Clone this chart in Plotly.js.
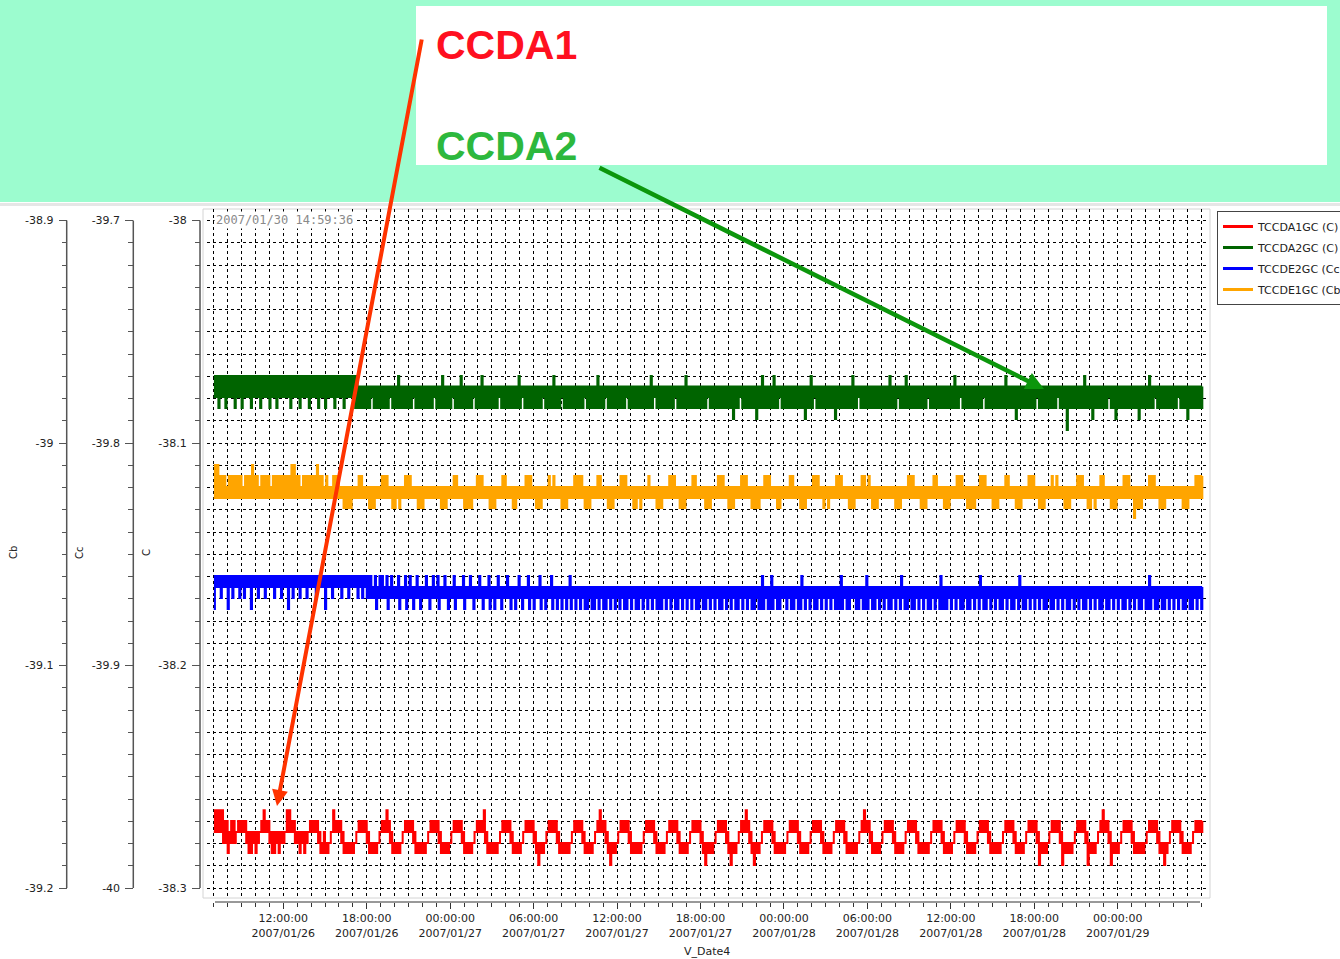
<!DOCTYPE html>
<html><head><meta charset="utf-8">
<script src="https://cdn.plot.ly/plotly-3.0.1.min.js"></script>
<style>html,body{margin:0;padding:0;background:#fff;overflow:hidden}#chart{width:1340px;height:959px}</style>
</head><body><div id="chart"></div>
<script>
// ---------------- data ----------------
const seriesNames  = ['TCCDA1GC (C)', 'TCCDA2GC (C)', 'TCCDE2GC (Cc)', 'TCCDE1GC (Cb)'];
const seriesColors = ['#ff0000', '#006400', '#0000ff', '#ffa500'];
const seriesAxes   = ['y', 'y', 'y2', 'y3'];

// one slot every 10 minutes, starting 2007-01-26 07:00:00
const sampleStartUTC = Date.UTC(2007, 0, 26, 7, 0, 0);
const slotMinutes = 10;

// quantised levels (each series on its own axis)
const levelsA1 = [-38.2650, -38.2699, -38.2748, -38.2798, -38.2843, -38.2897];   // C
const levelsA2 = [-38.0699, -38.0746, -38.0793, -38.0843, -38.0892, -38.0942];   // C
const levelsE2 = [-39.8598, -39.8647, -39.8697, -39.8746];                      // Cc
const levelsE1 = [-39.0099, -39.0148, -39.0198, -39.0247, -39.0292, -39.0337];   // Cb

// range of levels the value jitters across inside one slot (letter -> [level, level])
const bandsA1 = {H: [1, 2], S: [0, 2], M: [2, 3], L: [3, 4], D: [3, 5], W: [2, 4], T: [1, 3]};
const bandsA2 = {A: [0, 2], a: [0, 3], B: [1, 3], b: [1, 2], U: [0, 3], d: [1, 4], e: [1, 5]};
const bandsE2 = {T: [0, 1], t: [0, 2], q: [0, 3], B: [1, 2], W: [1, 3], F: [0, 3]};
const bandsE1 = {N: [2, 3], U: [1, 3], D: [2, 4], E: [1, 3], P: [0, 3], X: [2, 5]};

// one letter per 10-minute slot
const slotsA1 =
 'SSSSTTWTTM HHHHMWWMWM HSHHMWWMWMM SSHHMMWMWM HHHHMLWLLM SHHHMLLLLLM HHHHMLLLLM HHSHMLLLLM ' +
 'HHHHMLLLLLM HHHHMLLLLM HHHHMLLLLM HHHSMLLLLLM HHHHMLLLLM HHHHMLDLLM HHHHMLLLLLM HHHHMLLLLM ' +
 'HSHHMLDLLM HHHHMLLLLLM HHHHMLLLLM HHHHMLLLLM HHHHMLDLLLM HHHHMLDLLM HHSHMLDLLM HHHHMLLLLLM ' +
 'HHHHMLLLLM HHHHMLLLLM HHHHMLLLLLM HSHHMLLLLM HHHHMLLLLM HHHHMLLLLLM HHHHMLLLLM HHHHMLLLLM ' +
 'HHHHMLLLLLM HHHHMLLLLM HHHHMDLLLM HHHHMDLLLLM HHHHMDLLLM HSHHMDLLLM HHHHMLLLLLM HHHHMLLDLM ' +
 'HHHHMLLLLM HHHH';
const slotsA2 =
 'AAaAAa AAAaAA aAAAaA AAaAAA aAAaAA AAAaAA AaAAAa AAAaAA aAAAaA AAaAAA AaBBBB BBbBBB ' +
 'BBBBbB BUBBBB BBbBBB BBBBBb BBUBBB BbBBUB BBBBbB BUBBBB BBBbBB BBBBBU BbBBBB BBBBbB ' +
 'BBUBBB bBBBBB BBBBbB BBBUBB BbBBBB BBBBbB BBBBBB BBUBbB BBBBBB BbBBBU BBBBBB BBBbBB ' +
 'BBBBBB BBdBBb BBBBBB dBUBBB BUBBbB BBBBBB BBBdBU BbBBBB BBBBdB BBBBBU BBbBBB BBBBBB ' +
 'BBBUBB BbBBUB BBBBBB BBbBBB BBBBBB BUBBbB BBBBBB BBbBBB BBBBBU BBBBdB BBBBUB BbBBBB ' +
 'BBBBbB BBeBBB BBBUBB BdBBBB BBbBBd BBBBBB BBBdBB BUBBbB BBBBBB BBbBBB dBBBBB B';
const slotsE2 =
 'qTTtTT qTtTTt TtTTqT TtTTtT TTtTTt TTqTtT TtTTtT TTtTTT qTTtTT TtTTtT TTtTtT ttBtWt ' +
 'tBtWtB BtWBtW tBWtBW BtBWtB tWBtBW BtWBBt WBtBWB tBWBtW BWtBWB tBWBWt BWBtWB WBtWBW ' +
 'BtWBWB WBWtWB WBWBWW BWWBWB WWBWBW BWBWWB WBWWBW BWBWBW WWBWBW BWWBWB WBWBWW BWWBWB ' +
 'WBWWBW BWBWWB WBWBWW BWFWBW FWBWWB BWBWWB WFBWBW BWWBWB WBWBWW FWBWWB BWWBWF WBWWBW ' +
 'BWBWWB WBFBWW BWWBWB WBWWBW BFWWWB WBWBWW BWWBWB FBWWBW BWBWWB WBWWBF BWWBWB WBWBWW ' +
 'BWWBWB WBWWBW BWBWWB WBWBWW BWWBWB WBWWBW BWBWWB WFWBWW BWWBWB WBWBWW BWWBWB W';
const slotsE1 =
 'PPEEENEEEE EENEEEPEEN EEEENEEEEEE EEPPEENEEE EEEPEENENN UUUNNDDDDNN UUNNNDDDNN UUUNNDDNDN ' +
 'UUUNNNDDDNN NNNNNDDDNN UUNNNDDDDN UUUNNNDDDNN UUNNNDDNNN UUUNNDDDNN UNUNNNDDDNN UUUUNDDDNN ' +
 'UUNNNDDDNN UUUNNNDDNDN NUNNNDDDNN UUUNNDDDNN UUNNNNDDDNN UUUNNDDDNN UUUNNDDDDN UUUNNNDDNNN ' +
 'UUNNNDDDNN UUUNNDNDNN UUUNNNDDDNN UUNUNDDDNN NNNNNDDDNN UUUNNNDDDNN UUNNNDDDNN UUUNNDDDDN ' +
 'UUUNNNDDDNN UUNNNDDDNN UUUNNDDDNN UNUNNNDDDNN UUUNNDDNDN UUNNNDDDNN UUUNNXDDDNN UUUNNDDDNN ' +
 'NNNNNDDDNN UUUU';

// axis ticks
const xTickVals = ['2007-01-26 12:00:00','2007-01-26 18:00:00','2007-01-27 00:00:00','2007-01-27 06:00:00',
  '2007-01-27 12:00:00','2007-01-27 18:00:00','2007-01-28 00:00:00','2007-01-28 06:00:00',
  '2007-01-28 12:00:00','2007-01-28 18:00:00','2007-01-29 00:00:00'];
const xTickText = ['12:00:00<br>2007/01/26','18:00:00<br>2007/01/26','00:00:00<br>2007/01/27','06:00:00<br>2007/01/27',
  '12:00:00<br>2007/01/27','18:00:00<br>2007/01/27','00:00:00<br>2007/01/28','06:00:00<br>2007/01/28',
  '12:00:00<br>2007/01/28','18:00:00<br>2007/01/28','00:00:00<br>2007/01/29'];
const xRange = ['2007-01-26 06:30:51', '2007-01-29 06:25:09'];
const yTickC  = [-38, -38.1, -38.2, -38.3];   const yTextC  = ['-38', '-38.1', '-38.2', '-38.3'];
const yTickCc = [-39.7, -39.8, -39.9, -40];   const yTextCc = ['-39.7', '-39.8', '-39.9', '-40'];
const yTickCb = [-38.9, -39, -39.1, -39.2];   const yTextCb = ['-38.9', '-39', '-39.1', '-39.2'];
const axisTopC = -38, axisTopCc = -39.7, axisTopCb = -38.9, axisSpan = 0.3;
const stamp = '2007/01/30 14:59:36';
const xTitle = 'V_Date4';
const yTitles = ['Cb', 'Cc', 'C'];
const headTexts = ['CCDA1', 'CCDA2'];

// ---------------- build ----------------
function fmt(ms) { return new Date(ms).toISOString().slice(0, 19).replace('T', ' '); }
// each slot is drawn as its low and its high value (first and second half of the slot), as a step line
function decode(slots, bands, levels) {
  const s = slots.replace(/\s+/g, '');
  const x = [], y = [];
  const half = slotMinutes * 30000;
  for (let i = 0; i < s.length; i++) {
    const b = bands[s[i]];
    const v1 = levels[b[0]], v2 = levels[b[1]];
    const t = sampleStartUTC + i * slotMinutes * 60000;
    x.push(fmt(t), fmt(t + half));
    y.push(Math.min(v1, v2), Math.max(v1, v2));
  }
  return {x, y};
}
const allSlots  = [slotsA1, slotsA2, slotsE2, slotsE1];
const allBands  = [bandsA1, bandsA2, bandsE2, bandsE1];
const allLevels = [levelsA1, levelsA2, levelsE2, levelsE1];
const traces = allSlots.map((s, k) => {
  const d = decode(s, allBands[k], allLevels[k]);
  return {
    type: 'scatter', mode: 'lines', x: d.x, y: d.y, yaxis: seriesAxes[k],
    name: seriesNames[k], legendgroup: 'g' + k, showlegend: false,
    line: {color: seriesColors[k], width: 2, shape: 'hv', simplify: false},
    hoverinfo: 'skip'
  };
});
// legend entries (thicker sample line, as in the original legend)
seriesNames.forEach((n, k) => traces.push({
  type: 'scatter', mode: 'lines', x: [null], y: [null], yaxis: seriesAxes[k],
  name: n, legendgroup: 'g' + k, showlegend: true,
  line: {color: seriesColors[k], width: 3}, hoverinfo: 'skip'
}));

// hourly minor ticks / grid on x, 0.01 minor ticks on y
const xMinorVals = [];
for (let h = 0; h < 72; h++) xMinorVals.push(fmt(sampleStartUTC + h * 3600000));
function minorY(top) { const a = []; for (let i = 0; i <= 30; i++) a.push(+(top - i * 0.01).toFixed(2)); return a; }

const W = 1340, H = 959;
const px = v => v / W, py = v => 1 - v / H;
const yTopPx = 220.5, yBotPx = 888, plotTop = 209, plotBot = 898;
const ppu = (yBotPx - yTopPx) / axisSpan;
const rangeFor = top => [top - axisSpan - (plotBot - yBotPx) / ppu, top + (yTopPx - plotTop) / ppu];
const tickFont = {family: 'DejaVu Sans', size: 11, color: '#222'};
const dotGrid = {showgrid: true, gridcolor: '#000', gridwidth: 1, griddash: 'dot'};

function yAxis(pos, top, vals, text, withGrid) {
  const ax = {
    anchor: 'free', position: px(pos), side: 'left', range: rangeFor(top),
    showline: false, zeroline: false, showgrid: false,
    tickmode: 'array', tickvals: vals, ticktext: text, ticklabelstandoff: 3,
    ticks: 'outside', ticklen: 8, tickwidth: 1, tickcolor: '#555', tickfont: tickFont,
    minor: Object.assign({tickmode: 'array', tickvals: minorY(top), ticks: 'outside', ticklen: 5, tickwidth: 1,
                          tickcolor: '#555', showgrid: false}, withGrid ? dotGrid : {}),
    fixedrange: true
  };
  if (withGrid) Object.assign(ax, dotGrid);
  return ax;
}

const layout = {
  width: W, height: H,
  margin: {l: 0, r: 0, t: 0, b: 0, pad: 0, autoexpand: false},
  paper_bgcolor: '#fff', plot_bgcolor: '#fff',
  font: {family: 'DejaVu Sans', size: 11, color: '#222'},
  showlegend: true,
  legend: {x: px(1217), y: py(211), xanchor: 'left', yanchor: 'top', bgcolor: '#fff',
           bordercolor: '#444', borderwidth: 1, font: {family: 'DejaVu Sans', size: 11, color: '#222'},
           tracegroupgap: 2},
  xaxis: Object.assign({
    type: 'date', domain: [px(207), px(1207)], range: xRange,
    anchor: 'free', position: py(902),
    showline: false, zeroline: false,
    tickmode: 'array', tickvals: xTickVals, ticktext: xTickText,
    ticks: 'outside', ticklen: 6, tickwidth: 1, tickcolor: '#333', tickfont: tickFont,
    minor: Object.assign({tickmode: 'array', tickvals: xMinorVals, ticks: 'outside', ticklen: 4, tickwidth: 1,
            tickcolor: '#333'}, dotGrid),
    fixedrange: true
  }, dotGrid),
  yaxis: Object.assign(yAxis(200, axisTopC, yTickC, yTextC, true), {domain: [py(plotBot), py(plotTop)]}),
  yaxis2: Object.assign(yAxis(133.3, axisTopCc, yTickCc, yTextCc, false), {overlaying: 'y'}),
  yaxis3: Object.assign(yAxis(66.7, axisTopCb, yTickCb, yTextCb, false), {overlaying: 'y'}),
  shapes: [
    {type: 'rect', xref: 'paper', yref: 'paper', x0: 0, x1: 1, y0: py(202), y1: 1, fillcolor: '#9cfccf', line: {width: 0}},
    {type: 'rect', xref: 'paper', yref: 'paper', x0: 0, x1: 1, y0: py(206), y1: py(203), fillcolor: '#e6e6e6', line: {width: 0}},
    {type: 'rect', xref: 'paper', yref: 'paper', x0: px(416), x1: px(1327), y0: py(165), y1: py(6), fillcolor: '#fff', line: {width: 0}},
    {type: 'rect', xref: 'paper', yref: 'paper', x0: px(203), x1: px(1210), y0: py(plotBot), y1: py(plotTop), line: {color: '#d4d4d4', width: 1}, layer: 'below'},
    {type: 'line', xref: 'paper', yref: 'paper', x0: px(200), x1: px(200), y0: py(yBotPx), y1: py(yTopPx), line: {color: '#555', width: 1.5}},
    {type: 'line', xref: 'paper', yref: 'paper', x0: px(133.3), x1: px(133.3), y0: py(yBotPx), y1: py(yTopPx), line: {color: '#555', width: 1.5}},
    {type: 'line', xref: 'paper', yref: 'paper', x0: px(66.7), x1: px(66.7), y0: py(yBotPx), y1: py(yTopPx), line: {color: '#555', width: 1.5}},
    {type: 'line', xref: 'paper', yref: 'paper', x0: px(215), x1: px(1200), y0: py(902), y1: py(902), line: {color: '#333', width: 1}}
  ],
  annotations: [
    {xref: 'paper', yref: 'paper', x: px(214), y: py(220), xanchor: 'left', yanchor: 'middle', showarrow: false,
     text: stamp, bgcolor: '#fff', font: {family: 'DejaVu Sans Mono', size: 12, color: '#8a8a8a'}},
    {xref: 'paper', yref: 'paper', x: px(434), y: py(45), xanchor: 'left', yanchor: 'middle', showarrow: false,
     text: '<b>' + headTexts[0] + '</b>', font: {family: 'Liberation Sans', size: 41, color: '#ff1020'}},
    {xref: 'paper', yref: 'paper', x: px(434), y: py(146), xanchor: 'left', yanchor: 'middle', showarrow: false,
     text: '<b>' + headTexts[1] + '</b>', font: {family: 'Liberation Sans', size: 41, color: '#2db83d'}},
    {xref: 'paper', yref: 'paper', x: px(277), y: py(806), text: '', showarrow: true,
     ax: 422 - 277, ay: 38 - 806, arrowcolor: '#ff3300', arrowwidth: 4, arrowhead: 2, arrowsize: 0.8, standoff: 0},
    {xref: 'paper', yref: 'paper', x: px(1044), y: py(389), text: '', showarrow: true,
     ax: 598 - 1044, ay: 167 - 389, arrowcolor: '#0c960c', arrowwidth: 4.5, arrowhead: 2, arrowsize: 0.8, standoff: 0},
    {xref: 'paper', yref: 'paper', x: px(13), y: py(553), xanchor: 'center', yanchor: 'middle', textangle: -90, showarrow: false, text: yTitles[0], font: {size: 10, color: '#222'}},
    {xref: 'paper', yref: 'paper', x: px(79), y: py(553), xanchor: 'center', yanchor: 'middle', textangle: -90, showarrow: false, text: yTitles[1], font: {size: 10, color: '#222'}},
    {xref: 'paper', yref: 'paper', x: px(146), y: py(553), xanchor: 'center', yanchor: 'middle', textangle: -90, showarrow: false, text: yTitles[2], font: {size: 10, color: '#222'}},
    {xref: 'paper', yref: 'paper', x: px(707), y: py(951), xanchor: 'center', yanchor: 'middle', showarrow: false, text: xTitle, font: {size: 11, color: '#222'}}
  ]
};

Plotly.newPlot('chart', traces, layout, {staticPlot: true, displayModeBar: false});
</script>
</body></html>
